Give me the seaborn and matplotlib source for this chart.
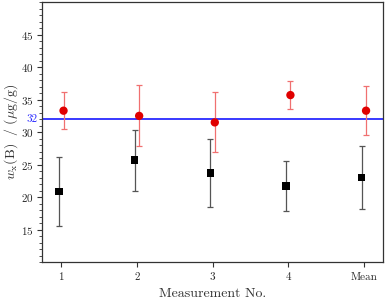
import numpy as np
import pandas as pd
import seaborn as sns
import matplotlib.pyplot as plt
from matplotlib.ticker import MultipleLocator

# Data
labels = ["1", "2", "3", "4", "Mean"]
black_vals = [20.9, 25.7, 23.7, 21.7, 23.0]
black_err = [5.3, 4.7, 5.2, 3.8, 4.8]
red_vals = [33.3, 32.5, 31.5, 35.7, 33.3]
red_err = [2.8, 4.7, 4.6, 2.2, 3.75]
ref_value = 32

sns.set_style("ticks")
plt.rcParams["font.family"] = ["cmr10", "DejaVu Serif"]
plt.rcParams["mathtext.fontset"] = "cm"
plt.rcParams["axes.formatter.use_mathtext"] = True

pos = np.arange(1, len(labels) + 1)
df_black = pd.DataFrame({"x": pos - 0.03, "y": black_vals})
df_red = pd.DataFrame({"x": pos + 0.03, "y": red_vals})

fig, ax = plt.subplots(figsize=(3.85, 3.0), dpi=100)
fig.subplots_adjust(left=0.11, right=0.994, top=0.993, bottom=0.126)

ax.axhline(ref_value, color="#2a2aff", lw=1.3, zorder=1)

ax.errorbar(df_black["x"], df_black["y"], yerr=black_err, fmt="none",
            ecolor="#555555", elinewidth=0.9, capsize=2.5, capthick=0.9, zorder=2)
ax.errorbar(df_red["x"], df_red["y"], yerr=red_err, fmt="none",
            ecolor="#f07070", elinewidth=0.9, capsize=2.5, capthick=0.9, zorder=2)

sns.scatterplot(data=df_black, x="x", y="y", marker="s", color="black",
                s=28, edgecolor="none", ax=ax, zorder=3)
sns.scatterplot(data=df_red, x="x", y="y", marker="o", color="#e00000",
                s=36, edgecolor="none", ax=ax, zorder=3)

ax.set_xlim(0.75, 5.25)
ax.set_ylim(10, 50)
ax.set_xticks(pos)
ax.set_xticklabels(labels)
ax.set_yticks([15, 20, 25, 30, 35, 40, 45])
ax.yaxis.set_minor_locator(MultipleLocator(1))
ax.tick_params(axis="both", which="major", labelsize=8, length=3.5, width=0.8,
               color="#333333", direction="out", pad=2.5)
ax.tick_params(axis="x", which="major", pad=4)
ax.tick_params(axis="y", which="minor", length=2, width=0.6, color="#333333")
ax.tick_params(axis="x", which="minor", length=0)

for sp in ax.spines.values():
    sp.set_color("#333333")
    sp.set_linewidth(0.9)

ax.text(-0.014, ref_value, "32", color="#2a2aff", fontsize=8, ha="right",
        va="center", transform=ax.get_yaxis_transform())

ax.set_xlabel("Measurement No.", fontsize=10, color="#333333", labelpad=4)
ax.set_ylabel(r"$w_{\mathrm{x}}(\mathrm{B})\ \ /\ (\mu\mathrm{g/g})$", fontsize=10,
              color="#333333", labelpad=1)

fig.savefig("out.png", dpi=100)
